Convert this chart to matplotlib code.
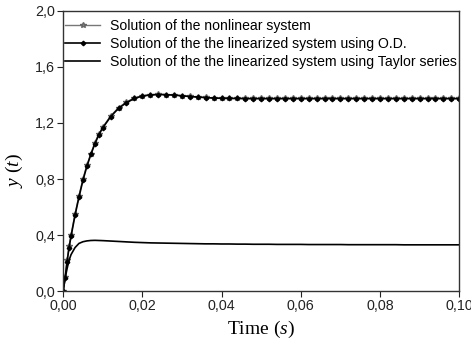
import matplotlib
matplotlib.use('Agg')
import matplotlib.pyplot as plt
from matplotlib.ticker import FuncFormatter, MultipleLocator

# Time grid (s)
t = [0.0, 0.0005, 0.001, 0.0015, 0.002, 0.003, 0.004, 0.005, 0.006, 0.007,
     0.008, 0.009, 0.010, 0.012, 0.014, 0.016, 0.018, 0.020, 0.022, 0.024,
     0.026, 0.028, 0.030, 0.032, 0.034, 0.036, 0.038, 0.040, 0.042, 0.044,
     0.046, 0.048, 0.050, 0.052, 0.054, 0.056, 0.058, 0.060, 0.062, 0.064,
     0.066, 0.068, 0.070, 0.072, 0.074, 0.076, 0.078, 0.080, 0.082, 0.084,
     0.086, 0.088, 0.090, 0.092, 0.094, 0.096, 0.098, 0.100]

# Solution of the nonlinear system
y_nonlin = [0.0, 0.10, 0.22, 0.32, 0.40, 0.55, 0.68, 0.80, 0.90, 0.98,
            1.06, 1.12, 1.17, 1.25, 1.31, 1.35, 1.38, 1.395, 1.402, 1.405,
            1.403, 1.400, 1.395, 1.390, 1.386, 1.382, 1.379, 1.377, 1.376, 1.376,
            1.375, 1.375, 1.375, 1.375, 1.375, 1.375, 1.375, 1.375, 1.375, 1.375,
            1.375, 1.375, 1.375, 1.375, 1.375, 1.375, 1.375, 1.375, 1.375, 1.375,
            1.375, 1.375, 1.375, 1.375, 1.375, 1.375, 1.375, 1.375]

# Solution of the linearized system using O.D.
y_od = [0.0, 0.09, 0.21, 0.31, 0.39, 0.54, 0.67, 0.79, 0.89, 0.975,
        1.05, 1.115, 1.165, 1.245, 1.305, 1.345, 1.375, 1.392, 1.400, 1.403,
        1.402, 1.399, 1.394, 1.389, 1.385, 1.381, 1.378, 1.376, 1.375, 1.375,
        1.374, 1.374, 1.374, 1.374, 1.374, 1.374, 1.374, 1.374, 1.374, 1.374,
        1.374, 1.374, 1.374, 1.374, 1.374, 1.374, 1.374, 1.374, 1.374, 1.374,
        1.374, 1.374, 1.374, 1.374, 1.374, 1.374, 1.374, 1.374]

# Solution of the linearized system using Taylor series
y_taylor = [0.0, 0.09, 0.16, 0.22, 0.26, 0.31, 0.34, 0.352, 0.358, 0.361,
            0.362, 0.361, 0.360, 0.357, 0.354, 0.351, 0.348, 0.346, 0.344, 0.343,
            0.342, 0.341, 0.340, 0.339, 0.338, 0.337, 0.337, 0.336, 0.336, 0.335,
            0.335, 0.334, 0.334, 0.334, 0.333, 0.333, 0.333, 0.333, 0.332, 0.332,
            0.332, 0.332, 0.332, 0.331, 0.331, 0.331, 0.331, 0.331, 0.331, 0.331,
            0.330, 0.330, 0.330, 0.330, 0.330, 0.330, 0.330, 0.330]

plt.rcParams['font.family'] = 'Liberation Sans'
plt.rcParams['mathtext.fontset'] = 'custom'
plt.rcParams['mathtext.rm'] = 'Liberation Serif'
plt.rcParams['mathtext.it'] = 'Liberation Serif:italic'

fig = plt.figure(figsize=(4.71, 3.42), dpi=100)
ax = fig.add_axes([0.134, 0.149, 0.841, 0.819])

ax.plot(t, y_nonlin, color='#777777', lw=1.0, marker='*', ms=4,
        mec='#666666', mfc='#888888', label='Solution of the nonlinear system')
ax.plot(t, y_od, color='black', lw=1.2, marker='D', ms=2.3,
        label='Solution of the the linearized system using O.D.')
ax.plot(t, y_taylor, color='black', lw=1.2,
        label='Solution of the the linearized system using Taylor series')

ax.set_xlim(0, 0.1)
ax.set_ylim(0, 2.0)
ax.xaxis.set_major_locator(MultipleLocator(0.02))
ax.yaxis.set_major_locator(MultipleLocator(0.4))
ax.xaxis.set_major_formatter(FuncFormatter(lambda v, p: f'{v:.2f}'.replace('.', ',')))
ax.yaxis.set_major_formatter(FuncFormatter(lambda v, p: f'{v:.1f}'.replace('.', ',')))
ax.tick_params(direction='out', length=4, width=0.8, labelsize=10.3, pad=2, colors='#222222')
for s in ax.spines.values():
    s.set_linewidth(1.0)
    s.set_color('#333333')

ax.set_xlabel('Time ($\\it{s}$)', family='Liberation Serif', fontsize=14)
ax.set_ylabel('$\\it{y}$ ($\\it{t}$)', family='Liberation Serif', fontsize=14)
ax.xaxis.set_label_coords(0.5, -0.1)
ax.yaxis.set_label_coords(-0.095, 0.43)

ax.legend(loc='upper left', bbox_to_anchor=(0, 0.978), frameon=False,
          fontsize=10.1, handlelength=2.5, handletextpad=0.7,
          borderaxespad=0.0, labelspacing=0.28, borderpad=0.15)

fig.savefig('out.png', dpi=100)
